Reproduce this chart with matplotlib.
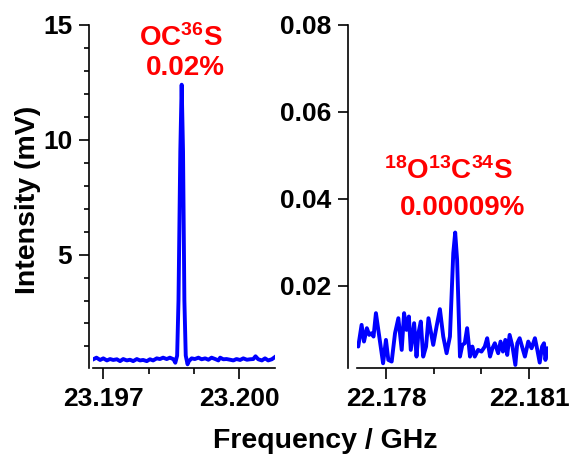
import matplotlib
matplotlib.use("Agg")
import matplotlib.pyplot as plt
from matplotlib.ticker import FixedLocator

plt.rcParams['font.family'] = 'Liberation Sans'
plt.rcParams['font.weight'] = 'bold'
plt.rcParams['mathtext.fontset'] = 'custom'
plt.rcParams['mathtext.rm'] = 'Liberation Sans:bold'
plt.rcParams['mathtext.it'] = 'Liberation Sans:bold'
plt.rcParams['mathtext.bf'] = 'Liberation Sans:bold'
plt.rcParams['mathtext.default'] = 'rm'

# OC36S line (left panel), frequency in GHz, intensity in mV
left_freq = [23.19678, 23.19685, 23.19693, 23.19700, 23.19708, 23.19715, 23.19722,
             23.19730, 23.19737, 23.19744, 23.19752, 23.19759, 23.19766, 23.19774,
             23.19781, 23.19788, 23.19796, 23.19803, 23.19810, 23.19818, 23.19825,
             23.19832, 23.19840, 23.19847, 23.19855,
             23.19859, 23.19863, 23.19866, 23.19870, 23.19873, 23.19876, 23.19879,
             23.19882, 23.19886, 23.19889,
             23.19895, 23.19902, 23.19910, 23.19917, 23.19925, 23.19932, 23.19939,
             23.19947, 23.19954, 23.19958, 23.19965, 23.19972, 23.19980, 23.19987,
             23.19994, 23.20002, 23.20009, 23.20017, 23.20024, 23.20031, 23.20036,
             23.20042, 23.20050, 23.20057, 23.20064, 23.20072, 23.20079]
left_int = [0.44, 0.51, 0.41, 0.48, 0.39, 0.45, 0.41, 0.44, 0.36, 0.45, 0.39, 0.42,
            0.36, 0.45, 0.39, 0.41, 0.36, 0.44, 0.39, 0.48, 0.45, 0.51, 0.45, 0.51, 0.44,
            0.29, 0.6, 3.0, 9.5, 12.4, 9.5, 3.0, 0.6, 0.22, 0.36,
            0.48, 0.45, 0.51, 0.44, 0.48, 0.42, 0.51, 0.45, 0.39, 0.51, 0.44, 0.45,
            0.42, 0.39, 0.45, 0.41, 0.48, 0.42, 0.44, 0.45, 0.57, 0.44, 0.39, 0.48,
            0.39, 0.44, 0.54]

# 18O13C34S line (right panel)
right_freq = [22.17739, 22.17742, 22.17749, 22.17754, 22.17760, 22.17765, 22.17770,
              22.17774, 22.17779, 22.17784, 22.17791, 22.17794, 22.17800, 22.17805,
              22.17812, 22.17819, 22.17826, 22.17833, 22.17838, 22.17843, 22.17848,
              22.17852, 22.17859, 22.17864, 22.17868, 22.17873, 22.17878, 22.17884,
              22.17889, 22.17899, 22.17906, 22.17913, 22.17920, 22.17927, 22.17934,
              22.17941, 22.17945, 22.17949, 22.17955, 22.17960, 22.17965, 22.17970,
              22.17976, 22.17981, 22.17986, 22.17993, 22.18000, 22.18007, 22.18012,
              22.18018, 22.18023, 22.18028, 22.18035, 22.18040, 22.18045, 22.18050,
              22.18054, 22.18059, 22.18065, 22.18071, 22.18075, 22.18080, 22.18086,
              22.18091, 22.18098, 22.18105, 22.18112, 22.18117, 22.18122, 22.18127,
              22.18131, 22.18134, 22.18138, 22.18142]
right_int = [0.00632, 0.00594, 0.01093, 0.00709, 0.01017, 0.00863, 0.00901, 0.00824,
             0.01363, 0.00978, 0.0044, 0.00209, 0.00747, 0.00286, 0.00248, 0.00901,
             0.01247, 0.00517, 0.01363, 0.00978, 0.01286, 0.00517, 0.01132, 0.00363,
             0.00901, 0.0117, 0.00363, 0.00594, 0.01247, 0.00632, 0.01055, 0.01455,
             0.00824, 0.0044, 0.00824, 0.02747, 0.0322, 0.02593, 0.00363, 0.00632,
             0.0067, 0.01017, 0.00363, 0.00594, 0.00363, 0.00517, 0.00478, 0.00594,
             0.00786, 0.00363, 0.00555, 0.0067, 0.0044, 0.00709, 0.00478, 0.00747,
             0.00401, 0.00863, 0.00594, 0.00171, 0.0067, 0.00786, 0.00555, 0.00363,
             0.00709, 0.00555, 0.00786, 0.00517, 0.00225, 0.00594, 0.0067, 0.00286,
             0.00555, 0.00517]

left_xticks = [23.197, 23.200]
left_xminor = [23.198, 23.199]
left_yticks = [5, 10, 15]
left_yminor = [1, 2, 3, 4, 6, 7, 8, 9, 11, 12, 13, 14]
right_xticks = [22.178, 22.181]
right_xminor = [22.179, 22.180]
right_yticks = [0.02, 0.04, 0.06, 0.08]

W, H = 571, 457
fig = plt.figure(figsize=(W / 100, H / 100), dpi=100)
ax1 = fig.add_axes([93 / W, 1 - 368 / H, 182 / W, 343 / H])
ax2 = fig.add_axes([357.3 / W, 1 - 368 / H, 191 / W, 343 / H])

# thick blue traces, rounded joins like the original
ax1.plot(left_freq, left_int, color='#0000ff', lw=2.8, solid_joinstyle='round')
ax2.plot(right_freq, right_int, color='#0000ff', lw=2.8, solid_joinstyle='round')

ax1.set_xlim(23.196773, 23.20079)
ax1.set_ylim(0.06, 15)
ax2.set_xlim(22.1774, 22.1814)
ax2.set_ylim(0.001, 0.08)

ax1.set_xticks(left_xticks, ['%.3f' % t for t in left_xticks])
ax1.xaxis.set_minor_locator(FixedLocator(left_xminor))
ax1.set_yticks(left_yticks, [str(t) for t in left_yticks])
ax1.yaxis.set_minor_locator(FixedLocator(left_yminor))
ax2.set_xticks(right_xticks, ['%.3f' % t for t in right_xticks])
ax2.xaxis.set_minor_locator(FixedLocator(right_xminor))
ax2.set_yticks(right_yticks, ['%.2f' % t for t in right_yticks])

for ax, off in ((ax1, 3), (ax2, 7)):
    ax.spines['top'].set_visible(False)
    ax.spines['right'].set_visible(False)
    ax.spines['left'].set_position(('outward', off))
    ax.spines['left'].set_linewidth(1.2)
    ax.spines['bottom'].set_linewidth(1.2)
    ax.tick_params(axis='y', which='major', length=7, width=1.2, labelsize=19, pad=5)
    ax.tick_params(axis='y', which='minor', length=3.6, width=1.2)
    ax.tick_params(axis='x', which='major', length=8, width=1.2, labelsize=19, pad=6)
    ax.tick_params(axis='x', which='minor', length=4.3, width=1.2)
    ax.patch.set_visible(False)

red = '#ff0000'
ax1.text(0.4835, 0.939, r'$\mathrm{OC}^{36}\mathrm{S}$', transform=ax1.transAxes,
         ha='center', va='baseline', color=red, fontsize=20, clip_on=False)
ax1.text(0.505, 0.854, '0.02%', transform=ax1.transAxes,
         ha='center', va='baseline', color=red, fontsize=20, fontweight='bold')
ax2.text(0.48, 0.551, r'${}^{18}\mathrm{O}^{13}\mathrm{C}^{34}\mathrm{S}$', transform=ax2.transAxes,
         ha='center', va='baseline', color=red, fontsize=20)
ax2.text(0.552, 0.446, '0.00009%', transform=ax2.transAxes,
         ha='center', va='baseline', color=red, fontsize=20, fontweight='bold')

fig.text(28 / W, 1 - 200 / H, 'Intensity (mV)', rotation=90, ha='center', va='center',
         fontsize=20.5, fontweight='bold')
fig.text(325 / W, 1 - 441 / H, 'Frequency / GHz', ha='center', va='center',
         fontsize=20.5, fontweight='bold')

fig.savefig('out.png', dpi=100)
